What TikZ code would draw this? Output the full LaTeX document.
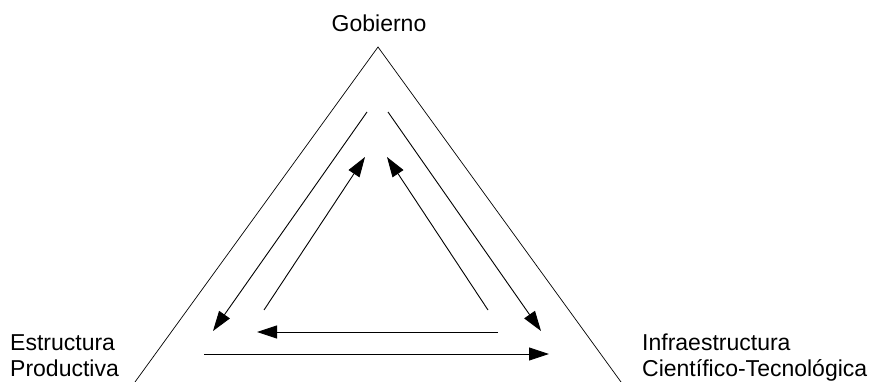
\documentclass[tikz,border=0pt]{standalone}
\usepackage{fontspec}
\setmainfont{Liberation Sans}
\usetikzlibrary{arrows.meta}

\begin{document}
\begin{tikzpicture}[x=1pt,y=-1pt,
		every node/.style={
			font=\fontsize{23}{26}\selectfont,
			inner sep=0pt,
		},
		side/.style={line width=0.7pt},
		flow/.style={-{Triangle[length=20pt,width=13pt]}, line width=0.9pt},
		]
		\useasboundingbox (0,0) rectangle (873,382);

		\node (gob) [anchor=base] at (379,32) {Gobierno};
		\node (estr) [align=left, anchor=north west] at (10,334) {Estructura\\Productiva};
		\node (infra) [align=left, anchor=north west] at (642,334) {Infraestructura\\Científico-Tecnológica};

		% outer triangle
		\coordinate (apex) at (378,47);
		\coordinate (bl) at (135,382);
		\coordinate (br) at (621,382);
		\draw[side] (bl) -- (apex) -- (br);

		% arrow ends
		\coordinate (l1s) at (367,112);
		\coordinate (l1e) at (213,331);
		\coordinate (l2s) at (264,310);
		\coordinate (l2e) at (365,157);
		\coordinate (r1s) at (388,112);
		\coordinate (r1e) at (541,331);
		\coordinate (r2s) at (488,310);
		\coordinate (r2e) at (387,157);
		\coordinate (b1s) at (204,354);
		\coordinate (b1e) at (549,354);
		\coordinate (b2s) at (498,332);
		\coordinate (b2e) at (257,332);

		\draw[flow] (l1s) -- (l1e);
		\draw[flow] (l2s) -- (l2e);
		\draw[flow] (r1s) -- (r1e);
		\draw[flow] (r2s) -- (r2e);
		\draw[flow] (b1s) -- (b1e);
		\draw[flow] (b2s) -- (b2e);

	\end{tikzpicture}
\end{document}
